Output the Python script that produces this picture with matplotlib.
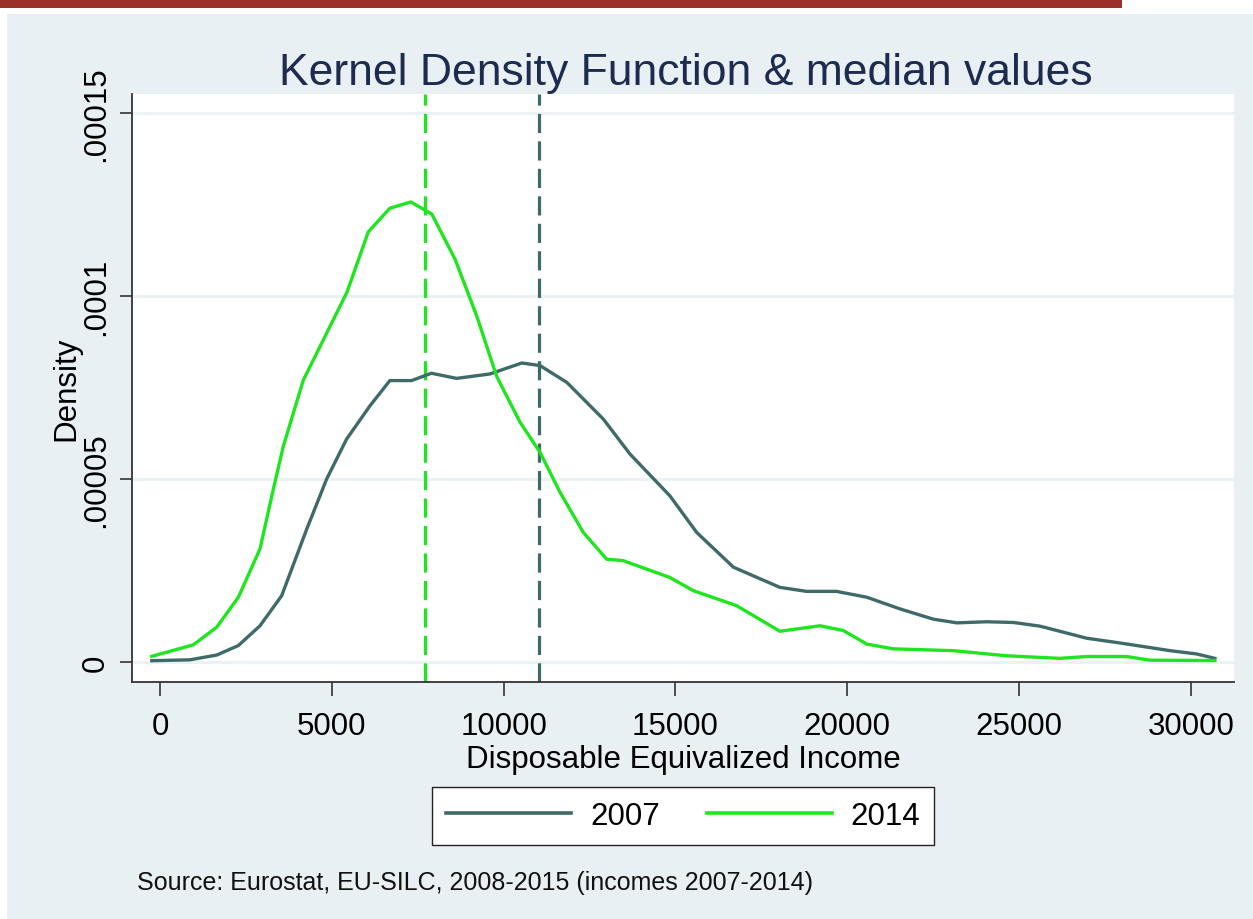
import matplotlib
matplotlib.use("Agg")
import matplotlib.pyplot as plt
from matplotlib.patches import Rectangle

plt.rcParams['font.family'] = ['Liberation Sans', 'DejaVu Sans']

# kernel density estimates (density in units of 1e-5)
x_2007 = [-240, 870, 1650, 2280, 2910, 3540, 4270, 4850, 5430, 6110, 6690, 7320,
          7900, 8630, 9600, 10530, 11060, 11840, 12900, 13680, 14840, 15620, 16690,
          18040, 18820, 19690, 20570, 21540, 22510, 23190, 24060, 24840, 25610,
          26970, 27940, 29400, 30170, 30700]
d_2007 = [0.036, 0.06, 0.19, 0.45, 0.99, 1.81, 3.63, 5.0, 6.09, 7.0, 7.69, 7.69,
          7.89, 7.75, 7.87, 8.17, 8.1, 7.64, 6.64, 5.68, 4.54, 3.54, 2.59,
          2.04, 1.93, 1.93, 1.77, 1.45, 1.17, 1.07, 1.10, 1.08, 0.98,
          0.65, 0.52, 0.31, 0.22, 0.10]

x_2014 = [-240, 970, 1650, 2280, 2910, 3300, 3590, 4170, 5440, 6060, 6690, 7300,
          7910, 8590, 9220, 9800, 10480, 11060, 11640, 12320, 13000, 13480, 14840,
          15520, 16780, 18040, 19210, 19890, 20570, 21340, 23090, 24640, 26190,
          26970, 28130, 28810, 30700]
d_2014 = [0.156, 0.47, 0.95, 1.77, 3.09, 4.73, 5.9, 7.7, 10.1, 11.75, 12.4, 12.57,
          12.24, 11.0, 9.45, 7.8, 6.55, 5.73, 4.64, 3.54, 2.81, 2.77, 2.31,
          1.95, 1.54, 0.84, 0.99, 0.86, 0.49, 0.36, 0.31, 0.17, 0.10,
          0.15, 0.15, 0.05, 0.04]

median_2007 = 11030
median_2014 = 7712

years = ["2007", "2014"]
x_ticks = [0, 5000, 10000, 15000, 20000, 25000, 30000]
y_ticks = [0, 0.00005, 0.0001, 0.00015]
y_tick_labels = ["0", ".00005", ".0001", ".00015"]

c2007 = "#3e6b6a"
c2014 = "#1ee61e"
bg = "#e8f0f3"

fig = plt.figure(figsize=(12.53, 9.2), dpi=100)
fig.patch.set_facecolor("white")
# light background panel and the red strip at the top edge
fig.patches.append(Rectangle((7 / 1253, 0), 1, 1 - 15 / 920, transform=fig.transFigure,
                             facecolor=bg, edgecolor="none", zorder=-2))
fig.patches.append(Rectangle((0, 1 - 9 / 920), 1122 / 1253, 9 / 920, transform=fig.transFigure,
                             facecolor="#9b2f2a", edgecolor="none", zorder=-1))

ax = fig.add_axes([132 / 1253, 1 - 683 / 920, (1234 - 132) / 1253, (683 - 95) / 920])
ax.set_facecolor("white")

ax.plot(x_2007, [v * 1e-5 for v in d_2007], color=c2007, lw=2.4, label=years[0], zorder=3)
ax.plot(x_2014, [v * 1e-5 for v in d_2014], color=c2014, lw=2.4, label=years[1], zorder=3)
ax.axvline(median_2014, color=c2014, lw=2.3, ls=(0, (6, 2.6)), zorder=2)
ax.axvline(median_2007, color=c2007, lw=2.3, ls=(0, (6, 2.6)), zorder=2)

ax.set_xlim(-815, 31257)
ax.set_ylim(-5.46e-6, 1.552e-4)
ax.set_xticks(x_ticks)
ax.set_xticklabels([str(t) for t in x_ticks])
ax.set_yticks(y_ticks)
ax.set_yticklabels(y_tick_labels, rotation=90, va="center")
ax.yaxis.grid(True, color="#eaf2f3", lw=2.2)
ax.set_axisbelow(True)

for s in ["top", "right"]:
    ax.spines[s].set_visible(False)
for s in ["left", "bottom"]:
    ax.spines[s].set_color("#333333")
    ax.spines[s].set_linewidth(1.3)
ax.tick_params(axis="x", length=10, width=1.2, color="#333333", labelsize=22.5, pad=11)
ax.tick_params(axis="y", length=9, width=1.2, color="#333333", labelsize=22.5, pad=6)

ax.set_xlabel("Disposable Equivalized Income", fontsize=22.5, labelpad=2)
ax.set_ylabel("Density", fontsize=22.5, labelpad=0)

fig.text(0.547, 1 - 73 / 920, "Kernel Density Function & median values", ha="center",
         va="center", fontsize=32, color="#1c2b4f")

leg = fig.legend(loc="center", bbox_to_anchor=(683 / 1253, 1 - 817 / 920), ncol=2,
                 fontsize=22.5, handlelength=4, handletextpad=0.6, columnspacing=1.5,
                 fancybox=False, frameon=True, borderpad=0.45, framealpha=1)
leg.get_frame().set_facecolor("white")
leg.get_frame().set_edgecolor("#222222")
leg.get_frame().set_linewidth(1.0)
for line in leg.get_lines():
    line.set_linewidth(2.6)

fig.text(137 / 1253, 1 - 883 / 920, "Source: Eurostat, EU-SILC, 2008-2015 (incomes 2007-2014)",
         ha="left", va="center", fontsize=18, color="#111111")

fig.savefig("out.png", dpi=100, facecolor=fig.get_facecolor())
